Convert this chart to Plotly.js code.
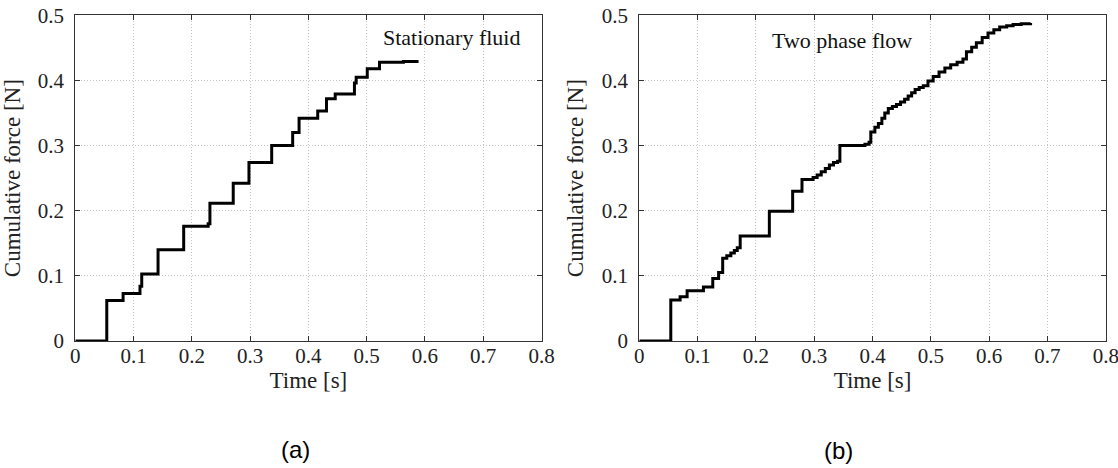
<!DOCTYPE html>
<html>
<head>
<meta charset="utf-8">
<script src="https://cdn.plot.ly/plotly-3.0.1.min.js"></script>
<style>html,body{margin:0;padding:0;background:#fff;}#chart{width:1118px;height:468px;}</style>
</head>
<body>
<div id="chart"></div>
<script>
// (a) Stationary fluid
const timeA  = [0, 0.054, 0.082, 0.111, 0.114, 0.142, 0.186, 0.228, 0.231, 0.271, 0.298, 0.337, 0.373, 0.384, 0.416, 0.431, 0.446, 0.479, 0.482, 0.501, 0.522, 0.563, 0.589];
const forceA = [0, 0.062, 0.073, 0.084, 0.103, 0.140, 0.176, 0.180, 0.2115, 0.242, 0.274, 0.300, 0.320, 0.342, 0.353, 0.372, 0.379, 0.396, 0.405, 0.418, 0.428, 0.429, 0.429];
// (b) Two phase flow
const timeB  = [0, 0.054, 0.070, 0.082, 0.110, 0.126, 0.136, 0.143, 0.150, 0.157, 0.163, 0.168, 0.173, 0.223, 0.263, 0.279, 0.298, 0.305, 0.312, 0.319, 0.326, 0.333, 0.340, 0.344, 0.387, 0.394, 0.397, 0.404, 0.410, 0.416, 0.421, 0.427, 0.434, 0.441, 0.448, 0.455, 0.461, 0.467, 0.473, 0.480, 0.487, 0.495, 0.504, 0.514, 0.524, 0.534, 0.545, 0.555, 0.561, 0.570, 0.578, 0.588, 0.598, 0.608, 0.618, 0.630, 0.641, 0.655, 0.671];
const forceB = [0, 0.063, 0.068, 0.077, 0.083, 0.096, 0.105, 0.127, 0.131, 0.135, 0.139, 0.143, 0.161, 0.199, 0.230, 0.248, 0.251, 0.255, 0.260, 0.265, 0.270, 0.274, 0.276, 0.300, 0.302, 0.305, 0.321, 0.328, 0.334, 0.342, 0.350, 0.357, 0.360, 0.363, 0.367, 0.371, 0.376, 0.381, 0.386, 0.389, 0.392, 0.399, 0.406, 0.413, 0.419, 0.424, 0.428, 0.433, 0.444, 0.451, 0.458, 0.466, 0.473, 0.478, 0.482, 0.484, 0.486, 0.487, 0.488];

const xTicks = [0, 0.1, 0.2, 0.3, 0.4, 0.5, 0.6, 0.7, 0.8];
const xTickText = ['0', '0.1', '0.2', '0.3', '0.4', '0.5', '0.6', '0.7', '0.8'];
const yTicks = [0, 0.1, 0.2, 0.3, 0.4, 0.5];
const yTickText = ['0', '0.1', '0.2', '0.3', '0.4', '0.5'];

const serif = "'Liberation Serif', 'Times New Roman', serif";
const lineStyle = {color: '#000', width: 3, shape: 'hv'};

const traces = [
  {x: timeA, y: forceA, type: 'scatter', mode: 'lines', line: lineStyle, xaxis: 'x', yaxis: 'y', showlegend: false, hoverinfo: 'skip'},
  {x: timeB, y: forceB, type: 'scatter', mode: 'lines', line: lineStyle, xaxis: 'x2', yaxis: 'y2', showlegend: false, hoverinfo: 'skip'}
];

function xax(domain, anchor) {
  return {
    domain: domain, anchor: anchor, range: [0, 0.8],
    tickvals: xTicks, ticktext: xTickText,
    ticks: 'inside', ticklen: 5, tickcolor: '#333',
    showline: true, linecolor: '#333', linewidth: 1, mirror: 'ticks',
    showgrid: true, gridcolor: '#c4c4c4', griddash: '1px,2px', gridwidth: 1,
    zeroline: false, fixedrange: true, ticklabelstandoff: -4, ticklabeloverflow: 'allow',
    tickfont: {family: serif, size: 21, color: '#222'},
    title: {text: 'Time [s]', font: {family: serif, size: 23, color: '#222'}, standoff: 0}
  };
}
function yax(domain, anchor) {
  return {
    domain: domain, anchor: anchor, range: [0, 0.5],
    tickvals: yTicks, ticktext: yTickText,
    ticks: 'inside', ticklen: 5, tickcolor: '#333',
    showline: true, linecolor: '#333', linewidth: 1, mirror: 'ticks',
    showgrid: true, gridcolor: '#c4c4c4', griddash: '1px,2px', gridwidth: 1,
    zeroline: false, fixedrange: true, ticklabelstandoff: 6,
    tickfont: {family: serif, size: 21, color: '#222'},
    title: {text: 'Cumulative force [N]', font: {family: serif, size: 23, color: '#222'}, standoff: 11}
  };
}

const yDom = [1 - 341 / 468, 1 - 15.3 / 468];
const layout = {
  width: 1118, height: 468,
  margin: {l: 0, r: 0, t: 0, b: 0},
  paper_bgcolor: '#fff', plot_bgcolor: '#fff',
  xaxis: xax([75.3 / 1118, 541.5 / 1118], 'y'),
  yaxis: yax(yDom, 'x'),
  xaxis2: xax([639.3 / 1118, 1105.8 / 1118], 'y2'),
  yaxis2: yax(yDom, 'x2'),
  annotations: [
    {xref: 'x', yref: 'y', x: 0.645, y: 0.466, text: 'Stationary fluid', showarrow: false,
     font: {family: serif, size: 22, color: '#111'}, xanchor: 'center', yanchor: 'middle'},
    {xref: 'x2', yref: 'y2', x: 0.348, y: 0.462, text: 'Two phase flow', showarrow: false,
     font: {family: serif, size: 22, color: '#111'}, xanchor: 'center', yanchor: 'middle'},
    {xref: 'paper', yref: 'paper', x: 295 / 1118, y: 1 - 449 / 468, text: '(a)', showarrow: false,
     font: {family: "'Liberation Sans', Arial, sans-serif", size: 24, color: '#000'}, xanchor: 'center', yanchor: 'middle'},
    {xref: 'paper', yref: 'paper', x: 838 / 1118, y: 1 - 450 / 468, text: '(b)', showarrow: false,
     font: {family: "'Liberation Sans', Arial, sans-serif", size: 24, color: '#000'}, xanchor: 'center', yanchor: 'middle'}
  ]
};

Plotly.newPlot('chart', traces, layout, {staticPlot: true, displayModeBar: false});
</script>
</body>
</html>
